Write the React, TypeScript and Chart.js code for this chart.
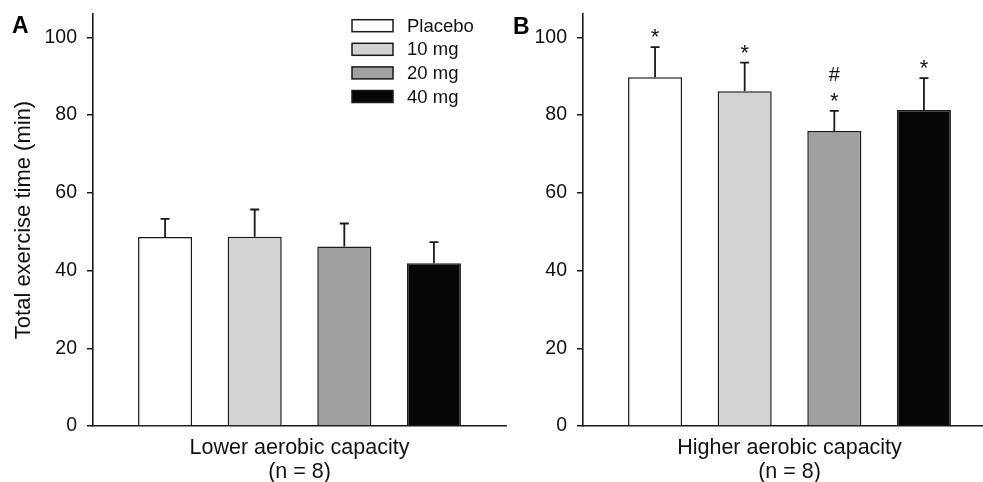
import React, { useEffect, useRef } from 'react';
import { Chart, registerables } from 'chart.js';

Chart.register(...registerables);

const doseLabels = ['Placebo', '10 mg', '20 mg', '40 mg'];
const doseColors = ['#ffffff', '#d3d3d3', '#a0a0a0', '#060606'];
const lowerGroup = ['Lower aerobic capacity', '(n = 8)'];
const higherGroup = ['Higher aerobic capacity', '(n = 8)'];
const lowerMeans = [48.6, 48.7, 46.2, 41.9];
const lowerErrors = [4.7, 7.0, 5.9, 5.4];
const higherMeans = [89.7, 86.1, 75.9, 81.3];
const higherErrors = [7.8, 7.4, 5.2, 8.2];
const lowerMarks: string[][] = [[], [], [], []];
const higherMarks: string[][] = [['*'], ['*'], ['*', '#'], ['*']];
const yTicks = [0, 20, 40, 60, 80, 100];
const yMin = 0;
const yMax = 106;
const yTitle = 'Total exercise time (min)';

const FONT = '"Liberation Sans", Arial, Helvetica, sans-serif';
const INK = '#1a1a1a';

function makeChart(
  canvas: HTMLCanvasElement,
  group: string[],
  means: number[],
  errors: number[],
  marks: string[][],
  letter: string,
  isLeft: boolean
) {
  const overlay = {
    id: 'overlay',
    afterDatasetsDraw(chart: any) {
      const ctx = chart.ctx;
      const ys = chart.scales.y;
      ctx.save();
      chart.data.datasets.forEach((ds: any, i: number) => {
        const bar = chart.getDatasetMeta(i).data[0];
        const x = bar.x;
        const top = bar.y;
        const capY = ys.getPixelForValue(ds.data[0] + errors[i]);
        ctx.strokeStyle = INK;
        ctx.lineWidth = 1.8;
        ctx.beginPath();
        ctx.moveTo(x, top);
        ctx.lineTo(x, capY);
        ctx.moveTo(x - 4.5, capY);
        ctx.lineTo(x + 4.5, capY);
        ctx.stroke();
        ctx.fillStyle = '#111';
        ctx.textAlign = 'center';
        ctx.textBaseline = 'alphabetic';
        marks[i].forEach((m: string, k: number) => {
          ctx.font = m === '#' ? `20px ${FONT}` : `22px ${FONT}`;
          ctx.fillText(m, x, capY - 3 - k * 27);
        });
      });
      // panel letter
      ctx.fillStyle = '#000';
      ctx.font = `bold 23px ${FONT}`;
      ctx.textAlign = 'left';
      ctx.textBaseline = 'alphabetic';
      ctx.fillText(letter, isLeft ? 12 : 3, isLeft ? 33 : 34);
      // legend
      if (isLeft) {
        ctx.font = `18.5px ${FONT}`;
        ctx.textBaseline = 'middle';
        doseLabels.forEach((lab, i) => {
          const cy = 25.7 + i * 23.6;
          ctx.fillStyle = doseColors[i];
          ctx.fillRect(352, cy - 6, 41, 12);
          ctx.strokeStyle = INK;
          ctx.lineWidth = 1.5;
          ctx.strokeRect(352, cy - 6, 41, 12);
          ctx.fillStyle = '#111';
          ctx.fillText(lab, 407, cy + 1);
        });
      }
      ctx.restore();
    },
  };

  return new Chart(canvas, {
    type: 'bar',
    data: {
      labels: [group],
      datasets: doseLabels.map((lab, i) => ({
        label: lab,
        data: [means[i]],
        backgroundColor: doseColors[i],
        borderColor: INK,
        borderWidth: 1.5,
        barPercentage: 0.603,
        categoryPercentage: 0.868,
      })),
    },
    options: {
      responsive: false,
      animation: false,
      devicePixelRatio: 1,
      layout: { padding: { top: 14, left: 0, right: isLeft ? 4 : 0, bottom: 0 } },
      plugins: {
        legend: { display: false },
        tooltip: { enabled: false },
        title: { display: false },
      },
      scales: {
        x: {
          type: 'category',
          grid: { display: false },
          border: { display: true, color: INK, width: 1.6 },
          ticks: {
            color: '#111',
            font: { family: FONT, size: 21.5, lineHeight: 1.12 },
            padding: 2,
            maxRotation: 0,
            autoSkip: false,
          },
          afterFit: (s: any) => {
            s.height = 56;
            s.paddingLeft = 0;
            s.paddingRight = 0;
          },
        },
        y: {
          type: 'linear',
          min: yMin,
          max: yMax,
          afterBuildTicks: (s: any) => {
            s.ticks = yTicks.map((v) => ({ value: v }));
          },
          grid: {
            drawOnChartArea: false,
            drawTicks: true,
            tickLength: 6,
            color: INK,
            lineWidth: 1.5,
          },
          border: { display: true, color: INK, width: 1.6 },
          ticks: {
            color: '#111',
            font: { family: FONT, size: 19.5 },
            padding: 10,
          },
          title: {
            display: isLeft,
            text: yTitle,
            color: '#111',
            font: { family: FONT, size: 22 },
            padding: { top: 11, bottom: 0 },
          },
          afterFit: (s: any) => {
            s.width = isLeft ? 93 : 73;
            s.paddingTop = 0;
            s.paddingBottom = 0;
          },
        },
      },
    },
    plugins: [overlay],
  } as any);
}

export default function App() {
  const refA = useRef<HTMLCanvasElement>(null);
  const refB = useRef<HTMLCanvasElement>(null);
  useEffect(() => {
    const a = makeChart(refA.current!, lowerGroup, lowerMeans, lowerErrors, lowerMarks, 'A', true);
    const b = makeChart(refB.current!, higherGroup, higherMeans, higherErrors, higherMarks, 'B', false);
    return () => {
      a.destroy();
      b.destroy();
    };
  }, []);
  return (
    <div
      style={{
        position: 'fixed',
        left: 0,
        top: 0,
        width: 983,
        height: 482,
        overflow: 'hidden',
        background: '#fff',
      }}
    >
      <canvas
        ref={refA}
        width={510}
        height={482}
        style={{ position: 'absolute', left: 0, top: 0, width: 510, height: 482 }}
      />
      <canvas
        ref={refB}
        width={486}
        height={482}
        style={{ position: 'absolute', left: 510, top: 0, width: 486, height: 482 }}
      />
    </div>
  );
}
